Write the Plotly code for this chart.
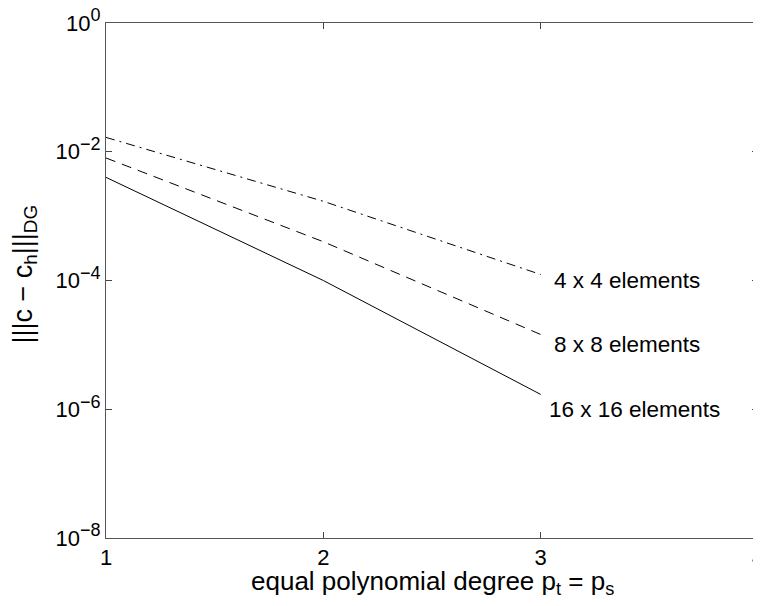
import math
import plotly.graph_objects as go

degree = [1, 2, 3]
err_4x4 = [1.67e-2, 1.7e-3, 1.24e-4]
err_8x8 = [8.0e-3, 4.0e-4, 1.45e-5]
err_16x16 = [4.0e-3, 1.0e-4, 1.7e-6]

series_labels = ["4 x 4 elements", "8 x 8 elements", "16 x 16 elements"]
label_x = [3.05, 3.05, 3.03]
label_y = [1e-4, 1e-5, 1e-6]

x_ticks = [1, 2, 3, 4]
y_ticks = [1e0, 1e-2, 1e-4, 1e-6, 1e-8]
y_exponents = ["0", "−2", "−4", "−6", "−8"]
y_ticktext = ["10<sup><span style='font-size:18px'>%s</span></sup>" % e for e in y_exponents]

FONT = "Liberation Sans, Arial, Helvetica, sans-serif"
TICKFONT = dict(family=FONT, size=22, color="black")

fig = go.Figure()
fig.add_trace(go.Scatter(x=degree, y=err_4x4, mode="lines",
                         line=dict(color="black", width=1, dash="9px,5px,2px,5px")))
fig.add_trace(go.Scatter(x=degree, y=err_8x8, mode="lines",
                         line=dict(color="black", width=1, dash="10px,7px")))
fig.add_trace(go.Scatter(x=degree, y=err_16x16, mode="lines",
                         line=dict(color="black", width=1)))

for t, xx, yy in zip(series_labels, label_x, label_y):
    fig.add_annotation(x=xx, y=math.log10(yy), yref="y", xref="x", text=t, showarrow=False,
                       xanchor="left", yanchor="middle",
                       font=dict(family=FONT, size=22.5, color="black"))

fig.add_annotation(xref="paper", yref="paper", x=0.5, y=0, yshift=-44,
                   xanchor="center", yanchor="middle", showarrow=False,
                   text="equal polynomial degree p<sub>t</sub> = p<sub>s</sub>",
                   font=dict(family=FONT, size=26, color="black"))
fig.add_annotation(xref="paper", yref="paper", x=0, y=0.5, xshift=-82, yshift=6,
                   xanchor="center", yanchor="middle", textangle=-90, showarrow=False,
                   text="|||c − c<sub>h</sub>|||<sub>DG</sub>",
                   font=dict(family=FONT, size=27, color="black"))

axis_style = dict(showline=True, linecolor="#555", linewidth=1, mirror="ticks",
                  ticks="inside", ticklen=6, tickcolor="#444", showgrid=False,
                  zeroline=False, tickfont=TICKFONT, ticklabeloverflow="allow")

fig.update_layout(
    width=753, height=598, showlegend=False,
    plot_bgcolor="white", paper_bgcolor="white",
    margin=dict(l=98, r=3, t=15, b=68, autoexpand=False),
    font=dict(family=FONT, size=21, color="black"),
    xaxis=dict(range=[1, 4], tickmode="array", tickvals=x_ticks,
               ticktext=[str(v) for v in x_ticks], **axis_style),
    yaxis=dict(type="log", range=[-8, 0], tickmode="array", tickvals=y_ticks,
               ticktext=y_ticktext, **axis_style),
)

fig.write_html("out.html")
